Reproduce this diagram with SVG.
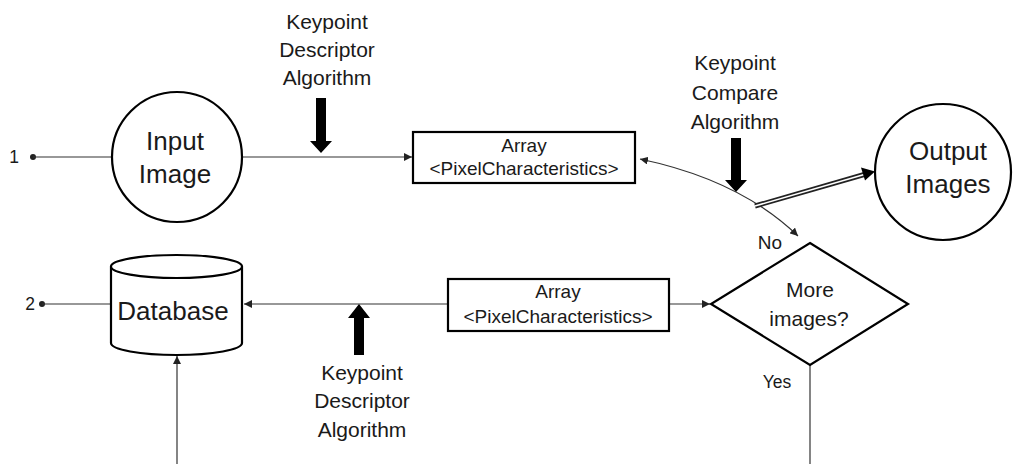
<svg xmlns="http://www.w3.org/2000/svg" width="1022" height="464" viewBox="0 0 1022 464">
<defs>
<style>
text{font-family:"Liberation Sans",Arial,sans-serif;fill:#1a1a1a;text-anchor:middle}
.big{font-size:26px}
.mid{font-size:21px}
.arr{font-size:19px}
.sm{font-size:17.5px}
.shape{fill:#fff;stroke:#000;stroke-width:2.2}
.conn{fill:none;stroke:#333;stroke-width:1.2}
.thick{fill:#000;stroke:none}
</style>
<marker id="ah" viewBox="0 0 10 10" refX="10" refY="5" markerWidth="8" markerHeight="8" markerUnits="userSpaceOnUse" orient="auto-start-reverse">
<path d="M0,0 L10,5 L0,10 z" fill="#222"/>
</marker>
</defs>
<rect width="1022" height="464" fill="#fff"/>

<g id="connectors">
<circle cx="33" cy="157" r="3" fill="#222"/>
<text class="sm" x="14" y="163">1</text>
<line class="conn" x1="33" y1="157" x2="111" y2="157"/>
<line class="conn" x1="243" y1="157" x2="412" y2="157" marker-end="url(#ah)"/>
<path class="conn" d="M640,159 Q740,180 798,236" marker-start="url(#ah)" marker-end="url(#ah)"/>
<line x1="755" y1="206" x2="866" y2="174" stroke="#222" stroke-width="5"/>
<line x1="755" y1="206" x2="866" y2="174" stroke="#fff" stroke-width="1.5"/>
<polygon points="875,171.5 861,167.5 865,180.5" fill="#000"/>
<circle cx="42" cy="304" r="3" fill="#222"/>
<text class="sm" x="30" y="310">2</text>
<line class="conn" x1="42" y1="304" x2="111" y2="304"/>
<line class="conn" x1="448" y1="304" x2="244" y2="304" marker-end="url(#ah)"/>
<line class="conn" x1="669" y1="304" x2="710" y2="304" marker-end="url(#ah)"/>
<line class="conn" x1="177" y1="464" x2="177" y2="356" marker-end="url(#ah)"/>
<line class="conn" x1="810" y1="365" x2="810" y2="464" stroke="#666"/>
<text class="arr" x="770" y="249">No</text>
<text class="sm" x="777" y="388">Yes</text>
</g>

<g id="kd-top">
<text class="mid" x="327" y="29">Keypoint</text>
<text class="mid" x="327" y="57">Descriptor</text>
<text class="mid" x="327" y="85">Algorithm</text>
<polygon class="thick" points="316,98 326,98 326,141 332,141 321,153 310,141 316,141"/>
</g>

<g id="kc">
<text class="mid" x="735" y="70">Keypoint</text>
<text class="mid" x="735" y="100">Compare</text>
<text class="mid" x="735" y="129">Algorithm</text>
<polygon class="thick" points="731,138 741,138 741,180 747,180 736,192 725,180 731,180"/>
</g>

<g id="kd-bottom">
<polygon class="thick" points="359,304 370,318 364,318 364,355 354,355 354,318 348,318"/>
<text class="mid" x="362" y="380">Keypoint</text>
<text class="mid" x="362" y="408">Descriptor</text>
<text class="mid" x="362" y="437">Algorithm</text>
</g>

<g id="input-image">
<circle class="shape" cx="177" cy="157" r="65"/>
<text class="big" x="175" y="150">Input</text>
<text class="big" x="175" y="183">Image</text>
</g>

<g id="array-top">
<rect class="shape" x="413" y="132" width="222" height="51"/>
<text class="arr" x="524" y="152">Array</text>
<text class="arr" x="524" y="175">&lt;PixelCharacteristics&gt;</text>
</g>

<g id="output-images">
<circle class="shape" cx="943" cy="172" r="68"/>
<text class="big" x="948" y="160">Output</text>
<text class="big" x="948" y="193">Images</text>
</g>

<g id="more-images">
<polygon class="shape" points="810,243 908,304 810,365 711,304"/>
<text class="mid" x="810" y="297">More</text>
<text class="mid" x="809" y="326">images?</text>
</g>

<g id="array-bottom">
<rect class="shape" x="448" y="279" width="221" height="52"/>
<text class="arr" x="558" y="298">Array</text>
<text class="arr" x="558" y="323">&lt;PixelCharacteristics&gt;</text>
</g>

<g id="database">
<path class="shape" d="M111,266.5 L111,343 A65.5,12 0 0 0 242,343 L242,266.5"/>
<ellipse class="shape" cx="176.5" cy="266.5" rx="65.5" ry="11.5"/>
<text class="big" x="173" y="320">Database</text>
</g>
</svg>
